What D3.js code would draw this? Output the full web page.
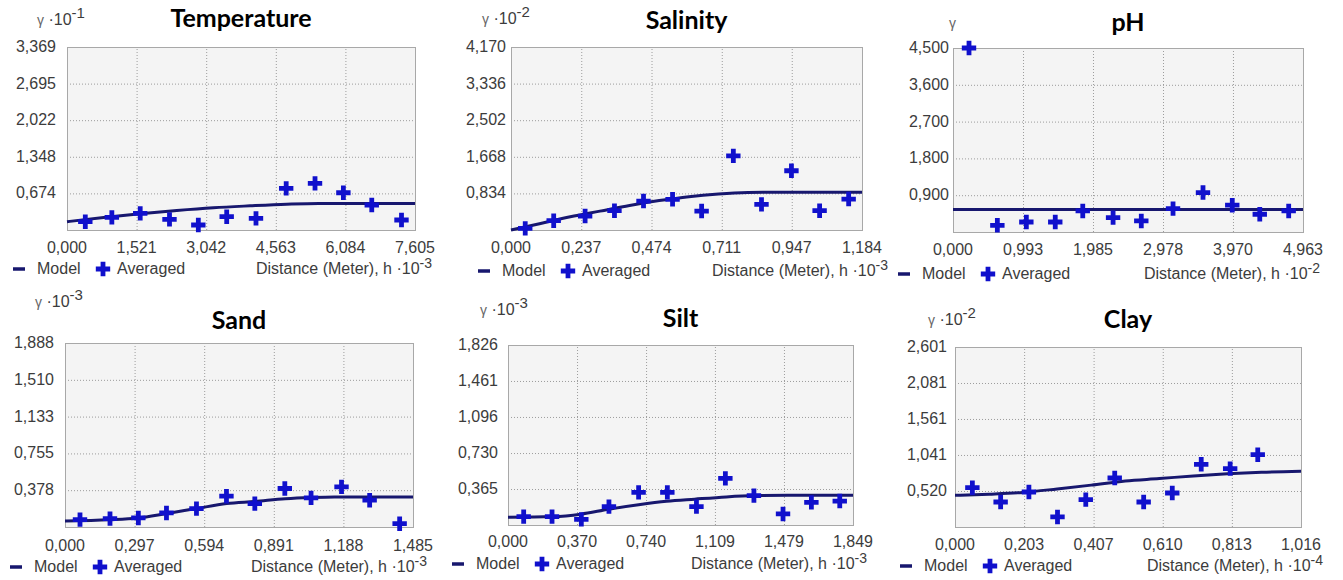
<!DOCTYPE html>
<html>
<head>
<meta charset="utf-8">
<script src="https://cdn.jsdelivr.net/npm/d3@7"></script>
<style>
  body { margin: 0; background: #fff; }
  svg { display: block; }
  .tick-label { font-family: "Liberation Sans", Arial, sans-serif; font-size: 16px; fill: #3c3c3c; }
  .title { font-family: Lato, "Open Sans", sans-serif; font-weight: bold; font-size: 25px; fill: #000; }
</style>
</head>
<body>
<svg id="chart" width="1343" height="580"></svg>
<script>
// Temperature
const tempXTicks = [0, 1.521, 3.042, 4.563, 6.084, 7.605];
const tempYTicks = [0, 0.674, 1.348, 2.022, 2.695, 3.369];
const tempLag = [0.40, 0.98, 1.60, 2.24, 2.87, 3.49, 4.13, 4.79, 5.42, 6.04, 6.66, 7.31];
const tempGamma = [0.153, 0.233, 0.306, 0.196, 0.092, 0.245, 0.214, 0.766, 0.858, 0.686, 0.46, 0.184];
const tempModelH = [0, 0.8, 1.6, 2.4, 3.2, 4.0, 4.8, 5.5, 7.605];
const tempModelG = [0.153, 0.23, 0.30, 0.36, 0.41, 0.445, 0.475, 0.49, 0.49];

// Salinity
const salXTicks = [0, 0.237, 0.474, 0.711, 0.947, 1.184];
const salYTicks = [0, 0.834, 1.668, 2.502, 3.336, 4.170];
const salLag = [0.048, 0.144, 0.25, 0.349, 0.447, 0.545, 0.643, 0.75, 0.845, 0.946, 1.041, 1.139];
const salGamma = [0.038, 0.212, 0.318, 0.44, 0.66, 0.70, 0.432, 1.69, 0.584, 1.35, 0.44, 0.705];
const salModelH = [0, 0.1, 0.2, 0.3, 0.4, 0.5, 0.6, 0.7, 0.8, 0.85, 1.184];
const salModelG = [0, 0.15, 0.30, 0.43, 0.56, 0.67, 0.76, 0.82, 0.855, 0.86, 0.86];

// pH
const phXTicks = [0, 0.993, 1.985, 2.978, 3.970, 4.963];
const phYTicks = [0, 0.900, 1.800, 2.700, 3.600, 4.500];
const phLag = [0.227, 0.629, 1.04, 1.45, 1.84, 2.27, 2.67, 3.12, 3.545, 3.96, 4.35, 4.76];
const phGamma = [4.5, 0.164, 0.245, 0.245, 0.515, 0.352, 0.27, 0.573, 0.965, 0.655, 0.434, 0.515];
const phModelH = [0, 4.963];
const phModelG = [0.55, 0.55];

// Sand
const sandXTicks = [0, 0.297, 0.594, 0.891, 1.188, 1.485];
const sandYTicks = [0, 0.378, 0.755, 1.133, 1.510, 1.888];
const sandLag = [0.064, 0.192, 0.313, 0.433, 0.561, 0.689, 0.81, 0.938, 1.05, 1.18, 1.30, 1.428];
const sandGamma = [0.0755, 0.086, 0.093, 0.144, 0.189, 0.316, 0.24, 0.395, 0.299, 0.412, 0.275, 0.034];
const sandModelH = [0, 0.19, 0.31, 0.43, 0.56, 0.69, 0.81, 0.94, 1.05, 1.15, 1.485];
const sandModelG = [0.062, 0.075, 0.093, 0.137, 0.189, 0.24, 0.262, 0.29, 0.303, 0.309, 0.309];

// Silt
const siltXTicks = [0, 0.370, 0.740, 1.109, 1.479, 1.849];
const siltYTicks = [0, 0.365, 0.730, 1.096, 1.461, 1.826];
const siltLag = [0.084, 0.236, 0.393, 0.541, 0.70, 0.854, 1.01, 1.165, 1.318, 1.474, 1.626, 1.778];
const siltGamma = [0.0845, 0.0845, 0.0575, 0.186, 0.331, 0.331, 0.186, 0.473, 0.298, 0.112, 0.23, 0.243];
const siltModelH = [0, 0.24, 0.39, 0.54, 0.7, 0.85, 1.0, 1.17, 1.32, 1.5, 1.849];
const siltModelG = [0.078, 0.085, 0.11, 0.16, 0.205, 0.24, 0.262, 0.285, 0.298, 0.302, 0.302];

// Clay
const clayXTicks = [0, 0.203, 0.407, 0.610, 0.813, 1.016];
const clayYTicks = [0, 0.520, 1.041, 1.561, 2.081, 2.601];
const clayLag = [0.051, 0.134, 0.217, 0.301, 0.384, 0.469, 0.554, 0.638, 0.723, 0.808, 0.889];
const clayGamma = [0.568, 0.361, 0.506, 0.145, 0.395, 0.708, 0.361, 0.491, 0.906, 0.843, 1.045];
const clayModelH = [0, 0.1, 0.2, 0.3, 0.4, 0.5, 0.6, 0.7, 0.8, 0.9, 1.016];
const clayModelG = [0.458, 0.475, 0.50, 0.55, 0.605, 0.665, 0.70, 0.738, 0.768, 0.79, 0.805];

const titles = ['Temperature', 'Salinity', 'pH', 'Sand', 'Silt', 'Clay'];
const gammaExp = ['-1', '-2', null, '-3', '-3', '-2'];
const distExp = ['-3', '-3', '-2', '-3', '-3', '-4'];

const MODEL_COLOR = '#17176e';
const POINT_COLOR = '#1010cc';

// layout of each panel (pixel positions)
const layout = [
  {x0: 67, x1: 415, y0: 47, y1: 230, yGap: 11, unitX: 37, unitY: 25, titleY: 27, tickY: 253, legX: 13, legY: 274, distX: 432},
  {x0: 511, x1: 862, y0: 47, y1: 230, yGap: 5, unitX: 482, unitY: 24, titleY: 29, tickY: 253, legX: 478, legY: 276, distX: 888},
  {x0: 953, x1: 1303, y0: 48, y1: 232, yGap: 4, unitX: 949, unitY: 28, titleY: 31, tickY: 255, legX: 898, legY: 279, distX: 1320},
  {x0: 65, x1: 413, y0: 343, y1: 527, yGap: 11, unitX: 35, unitY: 307, titleY: 329, tickY: 551, legX: 10, legY: 572, distX: 427},
  {x0: 508, x1: 853, y0: 345, y1: 525, yGap: 10, unitX: 480, unitY: 315, titleY: 327, tickY: 547, legX: 452, legY: 569, distX: 867},
  {x0: 955, x1: 1301, y0: 347, y1: 527, yGap: 8, unitX: 928, unitY: 325, titleY: 328, tickY: 550, legX: 900, legY: 571, distX: 1323}
];

const xTicksAll = [tempXTicks, salXTicks, phXTicks, sandXTicks, siltXTicks, clayXTicks];
const yTicksAll = [tempYTicks, salYTicks, phYTicks, sandYTicks, siltYTicks, clayYTicks];
const lagsAll = [tempLag, salLag, phLag, sandLag, siltLag, clayLag];
const gammasAll = [tempGamma, salGamma, phGamma, sandGamma, siltGamma, clayGamma];
const modelHAll = [tempModelH, salModelH, phModelH, sandModelH, siltModelH, clayModelH];
const modelGAll = [tempModelG, salModelG, phModelG, sandModelG, siltModelG, clayModelG];

const fmt = v => d3.format('.3f')(v).replace('.', ',');
const svg = d3.select('#chart');

function drawPanel(i) {
  const p = layout[i];
  const xt = xTicksAll[i];
  const yt = yTicksAll[i];
  const g = svg.append('g').attr('class', 'panel');

  const x = d3.scaleLinear().domain([0, xt[xt.length - 1]]).range([p.x0, p.x1]);
  const y = d3.scaleLinear().domain([0, yt[yt.length - 1]]).range([p.y1, p.y0]);

  g.append('rect')
    .attr('x', p.x0).attr('y', p.y0)
    .attr('width', p.x1 - p.x0).attr('height', p.y1 - p.y0)
    .attr('fill', '#f4f4f4');

  // gridlines
  const gx = g.append('g')
    .attr('transform', `translate(0,${p.y1})`)
    .call(d3.axisBottom(x).tickValues(xt.slice(1, -1)).tickSize(-(p.y1 - p.y0)).tickFormat(''));
  const gy = g.append('g')
    .attr('transform', `translate(${p.x0},0)`)
    .call(d3.axisLeft(y).tickValues(yt.slice(1, -1)).tickSize(-(p.x1 - p.x0)).tickFormat(''));
  [gx, gy].forEach(a => {
    a.select('.domain').remove();
    a.selectAll('line').attr('stroke', '#9c9c9c').attr('stroke-dasharray', '1,2');
  });

  g.append('rect')
    .attr('x', p.x0 + 0.5).attr('y', p.y0 + 0.5)
    .attr('width', p.x1 - p.x0).attr('height', p.y1 - p.y0)
    .attr('fill', 'none').attr('stroke', '#a8a8a8');

  // tick labels
  g.append('g').selectAll('text').data(xt).enter()
    .append('text')
    .attr('class', 'tick-label')
    .attr('x', d => x(d)).attr('y', p.tickY)
    .attr('text-anchor', 'middle')
    .text(fmt);
  g.append('g').selectAll('text').data(yt.slice(1)).enter()
    .append('text')
    .attr('class', 'tick-label')
    .attr('x', p.x0 - p.yGap).attr('y', d => y(d) + 5)
    .attr('text-anchor', 'end')
    .text(fmt);

  // model curve
  const model = modelHAll[i].map((h, k) => [h, modelGAll[i][k]]);
  g.append('path')
    .datum(model)
    .attr('fill', 'none')
    .attr('stroke', MODEL_COLOR)
    .attr('stroke-width', 3)
    .attr('d', d3.line().x(d => x(d[0])).y(d => y(d[1])).curve(d3.curveMonotoneX));

  // averaged points
  const pts = lagsAll[i].map((h, k) => [h, gammasAll[i][k]]);
  g.append('g').selectAll('path').data(pts).enter()
    .append('path')
    .attr('transform', d => `translate(${x(d[0])},${y(d[1])})`)
    .attr('d', d3.symbol(d3.symbolCross, 115))
    .attr('fill', POINT_COLOR);

  // title
  g.append('text')
    .attr('class', 'title')
    .attr('x', (p.x0 + p.x1) / 2).attr('y', p.titleY)
    .attr('text-anchor', 'middle')
    .text(titles[i]);

  // gamma unit
  const u = g.append('text')
    .attr('class', 'tick-label')
    .attr('x', p.unitX).attr('y', p.unitY);
  u.append('tspan').style('font-size', '14px').style('fill', '#666').text('γ');
  if (gammaExp[i]) {
    u.append('tspan').text(' ·10');
    u.append('tspan').attr('dy', -7).style('font-size', '15px').text(gammaExp[i]);
  }

  // distance label
  const dl = g.append('text')
    .attr('class', 'tick-label')
    .attr('x', p.distX).attr('y', p.legY)
    .attr('text-anchor', 'end');
  dl.append('tspan').text('Distance (Meter), h ·10');
  dl.append('tspan').attr('dy', -6).style('font-size', '14px').text(distExp[i]);

  // legend
  const ly = p.legY - 5;
  g.append('line')
    .attr('x1', p.legX).attr('x2', p.legX + 12)
    .attr('y1', ly).attr('y2', ly)
    .attr('stroke', MODEL_COLOR).attr('stroke-width', 3.5);
  g.append('text').attr('class', 'tick-label')
    .attr('x', p.legX + 24).attr('y', p.legY).text('Model');
  g.append('path')
    .attr('transform', `translate(${p.legX + 90},${ly})`)
    .attr('d', d3.symbol(d3.symbolCross, 115))
    .attr('fill', POINT_COLOR);
  g.append('text').attr('class', 'tick-label')
    .attr('x', p.legX + 104).attr('y', p.legY).text('Averaged');
}

titles.forEach((t, i) => drawPanel(i));
</script>
</body>
</html>
